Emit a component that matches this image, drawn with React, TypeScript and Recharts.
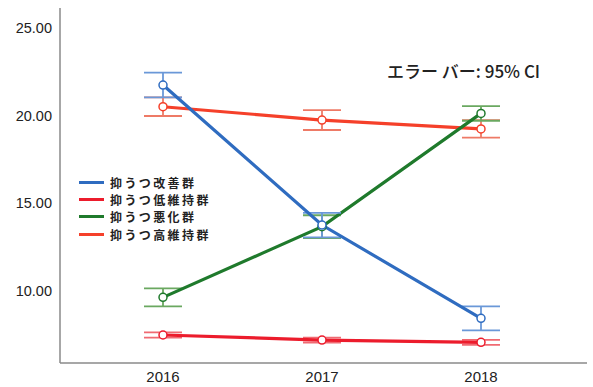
import React from 'react';
import { LineChart, Line, XAxis, YAxis, ErrorBar } from 'recharts';

const years = ['2016', '2017', '2018'];
const improved = [21.74, 13.74, 8.41];
const improvedErr = [0.71, 0.7, 0.69];
const lowMaint = [7.46, 7.17, 7.04];
const lowMaintErr = [0.15, 0.14, 0.14];
const worse = [9.61, 13.65, 20.12];
const worseErr = [0.51, 0.65, 0.42];
const highMaint = [20.5, 19.74, 19.23];
const highMaintErr = [0.53, 0.57, 0.5];
const yTicks = [10, 15, 20, 25];

const names = {
  improved: '抑うつ改善群',
  lowMaint: '抑うつ低維持群',
  worse: '抑うつ悪化群',
  highMaint: '抑うつ高維持群',
};

const data = years.map((y, i) => ({
  year: y,
  improved: improved[i],
  improvedErr: improvedErr[i],
  lowMaint: lowMaint[i],
  lowMaintErr: lowMaintErr[i],
  worse: worse[i],
  worseErr: worseErr[i],
  highMaint: highMaint[i],
  highMaintErr: highMaintErr[i],
}));

const series = [
  { key: 'improved', color: '#2f6cc0', err: '#6a98d8' },
  { key: 'lowMaint', color: '#ec1c2c', err: '#f06a72' },
  { key: 'worse', color: '#1f7a2c', err: '#6aa860' },
  { key: 'highMaint', color: '#f5402a', err: '#ee7a66' },
];

const drawOrder = ['highMaint', 'lowMaint', 'worse', 'improved'];

const font = '"Liberation Sans", Arial, sans-serif';
const cjk = '"Noto Sans CJK JP", "Liberation Sans", sans-serif';

export default function App() {
  return (
    <div style={{ position: 'absolute', left: 0, top: 0, width: 593, height: 387, background: '#fff' }}>
      <LineChart
        width={593}
        height={387}
        data={data}
        margin={{ top: 8, right: 6, left: 0, bottom: 0 }}
      >
        <XAxis
          dataKey="year"
          padding={{ left: 103, right: 106 }}
          tickLine={false}
          axisLine={{ stroke: '#8a8a8a', strokeWidth: 1.5 }}
          tick={{ fill: '#222', fontSize: 15, fontFamily: font }}
          height={24}
        />
        <YAxis
          domain={[5.86, 26.14]}
          ticks={yTicks}
          allowDataOverflow
          tickFormatter={(v: number) => v.toFixed(2)}
          tickLine={false}
          axisLine={{ stroke: '#8a8a8a', strokeWidth: 1.5 }}
          tick={{ fill: '#222', fontSize: 14.5, fontFamily: font }}
          width={60}
        />
        {drawOrder.map((k) => {
          const s = series.find((x) => x.key === k)!;
          return (
            <Line
              key={k}
              dataKey={k}
              stroke={s.color}
              strokeWidth={3.2}
              isAnimationActive={false}
              dot={{ r: 4, fill: '#fff', stroke: s.color, strokeWidth: 1.5 }}
              activeDot={false}
            >
              <ErrorBar dataKey={k + 'Err'} width={19} stroke={s.err} strokeWidth={1.8} direction="y" />
            </Line>
          );
        })}
      </LineChart>
      <div
        style={{
          position: 'absolute',
          left: 79,
          top: 173.5,
          fontFamily: cjk,
          fontSize: 12,
          fontWeight: 700,
          letterSpacing: 2.4,
          color: '#222',
        }}
      >
        {series.map((s) => (
          <div key={s.key} style={{ display: 'flex', alignItems: 'center', whiteSpace: 'nowrap', height: 17.4 }}>
            <span style={{ display: 'inline-block', width: 25, height: 3, background: s.color, marginRight: 6 }} />
            <span style={{ display: 'inline-block', lineHeight: '17.4px' }}>
              {(names as any)[s.key]}
            </span>
          </div>
        ))}
      </div>
      <div
        style={{
          position: 'absolute',
          left: 387,
          top: 58,
          fontFamily: cjk,
          fontSize: 17,
          fontWeight: 500,
          color: '#222',
          whiteSpace: 'nowrap',
        }}
      >
        エラー バー: 95% CI
      </div>
    </div>
  );
}
